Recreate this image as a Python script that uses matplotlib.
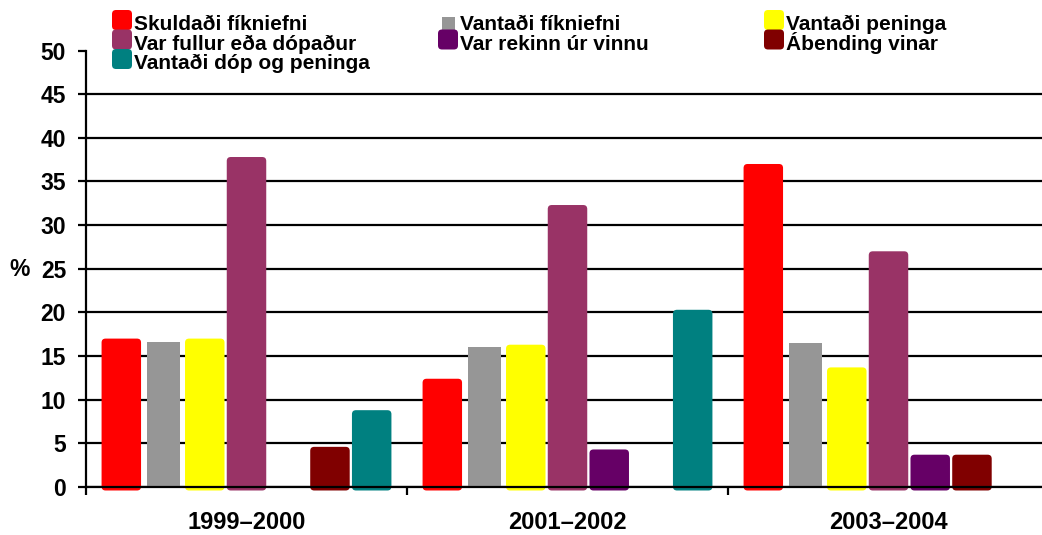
import numpy as np
import matplotlib
matplotlib.use('Agg')
import matplotlib.pyplot as plt
from matplotlib.patches import FancyBboxPatch

plt.rcParams['font.family'] = ['Liberation Sans', 'DejaVu Sans']
plt.rcParams['font.weight'] = 'bold'

periods = ['1999–2000', '2001–2002', '2003–2004']
reasons = ['Skuldaði fíkniefni', 'Vantaði fíkniefni', 'Vantaði peninga',
           'Var fullur eða dópaður', 'Var rekinn úr vinnu', 'Ábending vinar',
           'Vantaði dóp og peninga']
colors = ['#ff0000', '#969696', '#ffff00', '#993366', '#660066', '#800000', '#008080']

# values in %, per period (nan = no bar)
skuldadi = [17.0, 12.4, 37.0]
vantadi_fikniefni = [16.6, 16.0, 16.5]
vantadi_peninga = [17.0, 16.3, 13.7]
fullur = [37.8, 32.3, 27.0]
rekinn = [np.nan, 4.3, 3.7]
abending = [4.6, np.nan, 3.7]
dop_og_peninga = [8.8, 20.3, np.nan]
series = [skuldadi, vantadi_fikniefni, vantadi_peninga, fullur,
          rekinn, abending, dop_og_peninga]

W, H = 1042, 535
fig = plt.figure(figsize=(W / 100, H / 100), dpi=100)
ax = fig.add_axes([86 / W, 1 - 487 / H, 963 / W, (487 - 50.5) / H])
ax.set_xlim(-0.5, 2.5)
ax.set_ylim(0, 50)

# pixel scale of the data units, used for the rounded corners
px_x = 963 / 3
px_y = 436.5 / 50
slot = 0.130
below = 0.4
rs = 4 / px_x
aspect = px_x / px_y

x = np.arange(len(periods))
for j, (vals, col) in enumerate(zip(series, colors)):
    xs = x + (j - 3) * slot
    vals = np.array(vals)
    if j == 1:
        ax.bar(xs, vals, width=0.103, color=col, zorder=2)
        continue
    bars = ax.bar(xs, vals + below, width=0.123, bottom=-below, color=col,
                  zorder=2, clip_on=False)
    for rect in bars:
        h = rect.get_height()
        if not np.isnan(h):
            rb = FancyBboxPatch((rect.get_x(), rect.get_y()), rect.get_width(), h,
                                boxstyle=f"round,pad=0,rounding_size={rs}",
                                mutation_aspect=aspect, fc=col, ec='none',
                                zorder=2, clip_on=False)
            ax.add_patch(rb)
        rect.remove()

for s in ['top', 'right']:
    ax.spines[s].set_visible(False)
for s in ['left', 'bottom']:
    ax.spines[s].set_linewidth(1.6)

ax.set_yticks(np.arange(0, 51, 5))
ax.tick_params(axis='y', direction='out', length=5.8, width=1.6, labelsize=16.5, pad=8.6)
ax.set_axisbelow(True)
ax.yaxis.grid(True, color='black', linewidth=1.6)
ax.get_ygridlines()[-1].set_visible(False)

ax.set_xticks([-0.5, 0.5, 1.5, 2.5])
ax.set_xticklabels([])
ax.tick_params(axis='x', which='major', direction='out', length=5.8, width=1.6)
ax.set_xticks(x, minor=True)
ax.set_xticklabels(periods, minor=True)
ax.tick_params(axis='x', which='minor', length=0, labelsize=17, pad=17.5)

fig.text(20 / W, 1 - 269 / H, '%', ha='center', va='center', fontsize=16.5)

# legend, three entries per row
col_x = [112, 438, 764]
for i, (name, col) in enumerate(zip(reasons, colors)):
    r, c = divmod(i, 3)
    top = 10 + 19.5 * r
    if i == 1:
        mk = plt.Rectangle((442 / W, 1 - 29.5 / H), 13 / W, 13 / H, fc=col, ec='none',
                           transform=fig.transFigure)
    else:
        mk = FancyBboxPatch((col_x[c] / W, 1 - (top + 20) / H), 20 / W, 20 / H,
                            boxstyle=f"round,pad=0,rounding_size={4 / W}",
                            mutation_aspect=W / H, fc=col, ec='none',
                            transform=fig.transFigure)
    fig.add_artist(mk)
    fig.text((col_x[c] + 22) / W, 1 - (30 + 19.5 * r) / H, name, fontsize=15,
             ha='left', va='baseline')

fig.savefig('out.png', dpi=100)
